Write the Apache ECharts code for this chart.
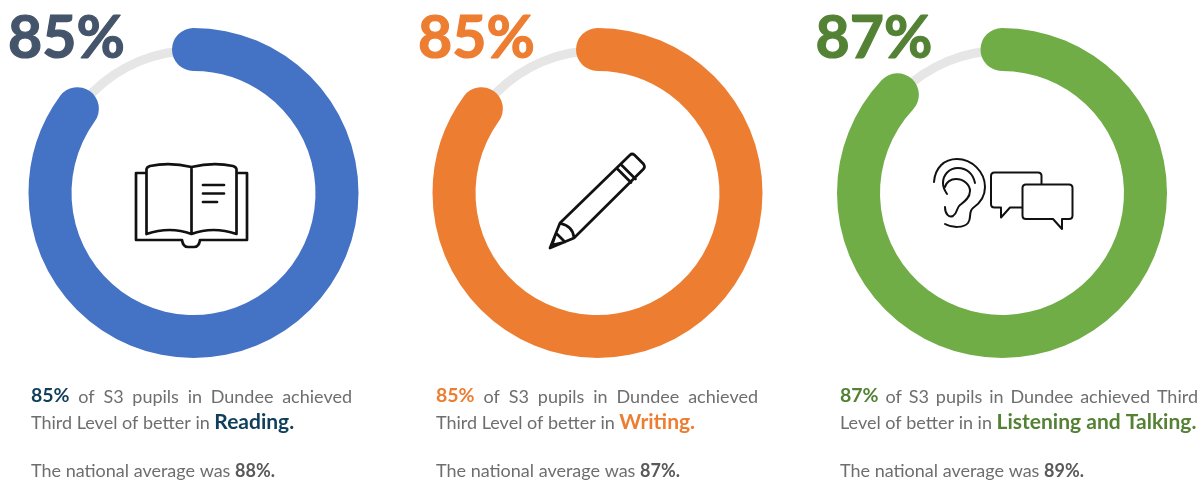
<!DOCTYPE html>
<html>
<head>
<meta charset="utf-8">
<style>
  html, body { margin: 0; padding: 0; background: #fff; }
  #chart { width: 1201px; height: 481px; }
</style>
<script src="https://cdn.jsdelivr.net/npm/echarts@6/dist/echarts.min.js"></script>
</head>
<body>
<div id="chart"></div>
<script>
// Attainment figures for S3 pupils
const subjects = ['Reading.', 'Writing.', 'Listening and Talking.'];
const dundeeValues = [85, 85, 87];
const nationalValues = [88, 87, 89];
const firstLines = [
  ['of', 'S3', 'pupils', 'in', 'Dundee', 'achieved'],
  ['of', 'S3', 'pupils', 'in', 'Dundee', 'achieved'],
  ['of', 'S3', 'pupils', 'in', 'Dundee', 'achieved', 'Third']
];
const secondLines = ['Third Level of better in ', 'Third Level of better in ', 'Level of better in in '];

// Per-panel styling and placement
const panels = [
  { cx: 193.5, ringColor: '#4472C4', bigColor: '#44546A', noteColor: '#0F3F5C', textX: 31, lineW: 321, bigX: 66.5 },
  { cx: 597.5, ringColor: '#ED7D31', bigColor: '#ED7D31', noteColor: '#ED7D31', textX: 436, lineW: 322, bigX: 476.5 },
  { cx: 1002, ringColor: '#70AD47', bigColor: '#548235', noteColor: '#548235', textX: 840, lineW: 358, bigX: 874 }
];

const FONT = 'Lato';
const GREY = '#6e6e6e';
const CY = 193;

const ruler = document.createElement('canvas').getContext('2d');
function widthOf(text, font) { ruler.font = font; return ruler.measureText(text).width; }

// Line-art icons, one stroked path each
const iconPaths = [
  'M146,173H136V240H182Q183,247 188,247H194Q199,247 200,240H247V173H237' +
  'M146.5,169Q147,167 150,166Q170,162 191.5,167Q213,162 233,166Q236,167 236.5,169V234Q213,226 191.5,234Q170,226 146.5,234Z' +
  'M191.5,167V234M203,185H224M203,193.5H224M203,202H217',
  'M550,248L560,223L630,155Q632,153 634.5,155L643.5,164Q645.5,167 643.5,169L574,238Z' +
  'M560.5,223.5Q573,226 574,238M617,168.5L631,182.5M622,165.5L635.5,179M552,245L556,233L565,242Z',
  'M934,182C935,168 944,159 957,159C972,159 985,172 985,187C985,197 979,204 973,208C968,212 972,218 968,223C964,228 952,228 945,224' +
  'M975,183C973,173 966,168 958,168C949,168 943,175 943,183C943,187 945,191 947,194' +
  'M945,187C946,182 951,179 956,179C964,179 970,185 970,191C970,198 964,202 960,205C956,208 958,213 953,216C949,218 945,214 945,207' +
  'M1041.5,184V176Q1041.5,172.5 1038,172.5H994.5Q991,172.5 991,176V204Q991,207.5 994.5,207.5H1001V217.5L1010,207.5H1022' +
  'M1026,184.5H1069Q1072.5,184.5 1072.5,188V215.5Q1072.5,219 1069,219H1062V229L1053,219H1026Q1022.5,219 1022.5,215.5V188Q1022.5,184.5 1026,184.5Z'
];
iconPaths.forEach((d, i) => {
  echarts.graphic.registerShape('icon' + i, echarts.graphic.extendPath(d, {}));
});

const series = [];
const graphics = [];

panels.forEach((p, i) => {
  const gaugeBase = {
    type: 'gauge',
    center: [p.cx, CY],
    startAngle: 90,
    endAngle: -270,
    min: 0,
    max: 100,
    silent: true,
    animation: false,
    pointer: { show: false },
    axisTick: { show: false },
    splitLine: { show: false },
    axisLabel: { show: false },
    title: { show: false }
  };

  // Thin grey track
  series.push(Object.assign({}, gaugeBase, {
    radius: 147,
    axisLine: { show: true, lineStyle: { width: 9, color: [[1, '#E7E6E6']] } },
    progress: { show: false },
    detail: { show: false },
    data: [{ value: 100 }]
  }));

  // Rounded progress band with the headline percentage
  series.push(Object.assign({}, gaugeBase, {
    radius: 165,
    axisLine: { show: false },
    progress: { show: true, width: 43, roundCap: true, itemStyle: { color: p.ringColor } },
    detail: {
      show: true,
      formatter: '{value}%',
      offsetCenter: [p.bigX - p.cx, 39 - CY],
      fontFamily: FONT,
      fontWeight: 'bold',
      fontSize: 59,
      color: p.bigColor,
      textBorderColor: p.bigColor,
      textBorderWidth: 1.2
    },
    data: [{ value: dundeeValues[i] }]
  }));

  graphics.push({
    type: 'icon' + i,
    silent: true,
    style: { fill: 'none', stroke: '#111', lineWidth: i === 2 ? 2 : 2.7, lineJoin: 'round', lineCap: 'round' }
  });

  // First line is justified across the column
  const bodyFont = '18px ' + FONT;
  const boldFont = 'bold 19.5px ' + FONT;
  const lead = dundeeValues[i] + '%';
  const words = firstLines[i];
  const leadW = widthOf(lead, boldFont);
  const wordsW = words.reduce((s, w) => s + widthOf(w, bodyFont), 0);
  const gap = (p.lineW - leadW - wordsW) / words.length;
  graphics.push({
    type: 'text', silent: true, x: p.textX, y: 396,
    style: { text: lead, font: boldFont, fill: p.noteColor, verticalAlign: 'middle' }
  });
  let x = p.textX + leadW + gap;
  words.forEach(w => {
    graphics.push({
      type: 'text', silent: true, x: x, y: 397,
      style: { text: w, font: bodyFont, fill: GREY, verticalAlign: 'middle' }
    });
    x += widthOf(w, bodyFont) + gap;
  });

  // Second line: plain lead-in followed by the subject name
  const lineTwoW = widthOf(secondLines[i], bodyFont);
  graphics.push({
    type: 'text', silent: true, x: p.textX, y: 423,
    style: { text: secondLines[i], font: bodyFont, fill: GREY, verticalAlign: 'middle' }
  });
  graphics.push({
    type: 'text', silent: true, x: p.textX + lineTwoW, y: 422,
    style: { text: subjects[i], font: 'bold 21px ' + FONT, fill: p.noteColor, verticalAlign: 'middle' }
  });

  // National comparison
  const natLead = 'The national average was ';
  graphics.push({
    type: 'text', silent: true, x: p.textX, y: 471,
    style: { text: natLead, font: bodyFont, fill: GREY, verticalAlign: 'middle' }
  });
  graphics.push({
    type: 'text', silent: true, x: p.textX + widthOf(natLead, bodyFont), y: 471,
    style: { text: nationalValues[i] + '%.', font: 'bold 18px ' + FONT, fill: '#595959', verticalAlign: 'middle' }
  });
});

const chart = echarts.init(document.getElementById('chart'), null, { renderer: 'canvas' });
chart.setOption({
  backgroundColor: '#ffffff',
  animation: false,
  series: series,
  graphic: { elements: graphics }
});
</script>
</body>
</html>
